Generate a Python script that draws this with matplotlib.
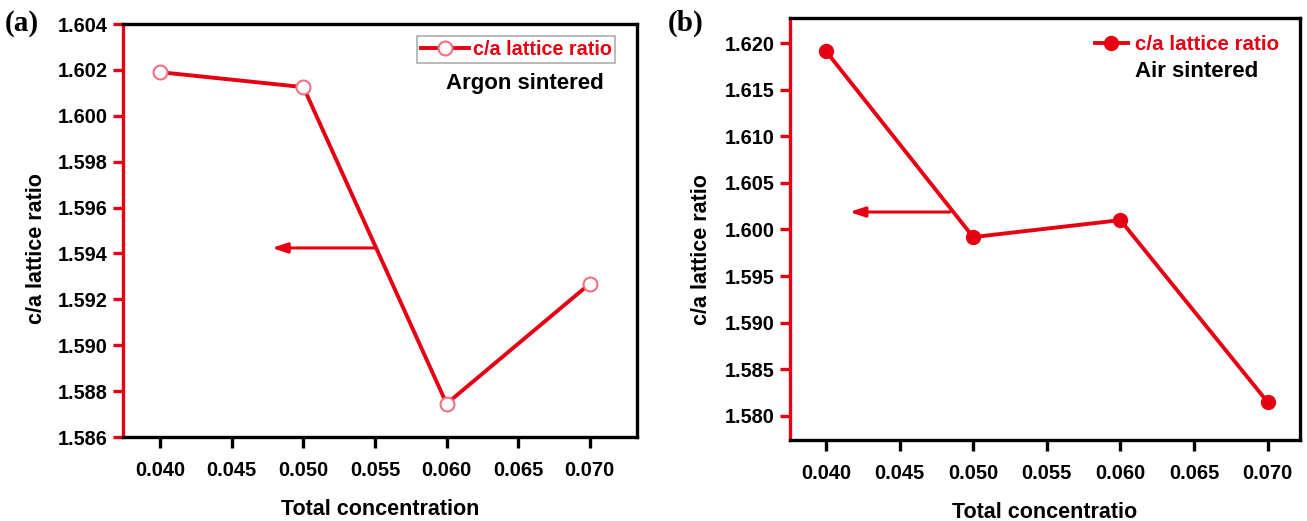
import matplotlib
matplotlib.use("Agg")
import matplotlib.pyplot as plt
from matplotlib.ticker import FormatStrFormatter

# ---- data ----
conc = [0.040, 0.050, 0.060, 0.070]
ratio_argon = [1.6019, 1.60125, 1.58745, 1.59268]
ratio_air = [1.61914, 1.59918, 1.60100, 1.58148]

xticks = [0.040, 0.045, 0.050, 0.055, 0.060, 0.065, 0.070]
yticks_a = [1.586, 1.588, 1.590, 1.592, 1.594, 1.596, 1.598, 1.600, 1.602, 1.604]
yticks_b = [1.580, 1.585, 1.590, 1.595, 1.600, 1.605, 1.610, 1.615, 1.620]

arrow_a = {"start": (0.0550, 1.59424), "end": (0.0478, 1.59424)}
arrow_b = {"start": (0.0484, 1.60187), "end": (0.0416, 1.60187)}

legend_label = "c/a lattice ratio"
xlabels = ["Total concentration", "Total concentratio"]
ylabel = "c/a lattice ratio"
notes = ["Argon sintered", "Air sintered"]
panel_tags = ["(a)", "(b)"]

RED = "#e60012"
FONT = "Liberation Sans"

plt.rcParams["font.family"] = [FONT, "DejaVu Sans"]
plt.rcParams["font.weight"] = "bold"

fig = plt.figure(figsize=(13.07, 5.21), dpi=100)
ax_a = fig.add_axes([0.0941, 0.1612, 0.3933, 0.7927])
ax_b = fig.add_axes([0.6044, 0.1555, 0.3902, 0.8100])


def style(ax, yticks, ylim, xlim, yfmt):
    for s in ["top", "right", "bottom"]:
        ax.spines[s].set_color("black")
        ax.spines[s].set_linewidth(2.4)
    ax.spines["left"].set_color(RED)
    ax.spines["left"].set_linewidth(2.4)
    ax.set_xlim(*xlim)
    ax.set_ylim(*ylim)
    ax.set_xticks(xticks)
    ax.set_yticks(yticks)
    ax.xaxis.set_major_formatter(FormatStrFormatter("%.3f"))
    ax.yaxis.set_major_formatter(FormatStrFormatter(yfmt))
    ax.tick_params(axis="x", direction="out", length=8, width=2.4, color="black",
                   labelsize=14.5, pad=9)
    ax.tick_params(axis="y", direction="out", length=7, width=2.4, color=RED,
                   labelsize=14.3, pad=4)
    for lab in ax.get_xticklabels() + ax.get_yticklabels():
        lab.set_fontweight("bold")


# ---- panel (a) ----
style(ax_a, yticks_a, (1.586, 1.604), (0.0374, 0.0733), "%.3f")
ax_a.plot(conc, ratio_argon, color=RED, lw=2.8, marker="o", ms=10,
          mfc="white", mec="#f07080", mew=1.5, label=legend_label)
ax_a.annotate("", xy=arrow_a["end"], xytext=arrow_a["start"],
              arrowprops=dict(arrowstyle="-|>,head_length=0.9,head_width=0.3",
                              color=RED, lw=2.2, shrinkA=0, shrinkB=0))
leg_a = ax_a.legend(loc="upper right", bbox_to_anchor=(0.958, 0.970), frameon=True,
                    fancybox=False, edgecolor="#999999", handlelength=2.4,
                    handletextpad=0.2, borderpad=0.2, borderaxespad=0,
                    prop={"family": FONT, "weight": "bold", "size": 14.2})
leg_a.get_frame().set_linewidth(1.2)
for t in leg_a.get_texts():
    t.set_color(RED)
ax_a.text(0.935, 0.857, notes[0], transform=ax_a.transAxes, ha="right", va="center",
          fontsize=16, fontweight="bold", color="black")
ax_a.set_xlabel(xlabels[0], fontsize=15.5, fontweight="bold", labelpad=14)
ax_a.set_ylabel(ylabel, fontsize=15.5, fontweight="bold", labelpad=8, y=0.457)

# ---- panel (b) ----
style(ax_b, yticks_b, (1.5774, 1.6227), (0.03755, 0.0722), "%.3f")
ax_b.plot(conc, ratio_air, color=RED, lw=2.8, marker="o", ms=10,
          mfc=RED, mec=RED, label=legend_label)
ax_b.annotate("", xy=arrow_b["end"], xytext=arrow_b["start"],
              arrowprops=dict(arrowstyle="-|>,head_length=0.9,head_width=0.3",
                              color=RED, lw=2.2, shrinkA=0, shrinkB=0))
leg_b = ax_b.legend(loc="upper right", bbox_to_anchor=(0.965, 0.967), frameon=False,
                    handlelength=1.6, handletextpad=0.35, borderpad=0.15,
                    borderaxespad=0, markerscale=1.0,
                    prop={"family": FONT, "weight": "bold", "size": 14.8})
for t in leg_b.get_texts():
    t.set_color(RED)
ax_b.text(0.918, 0.873, notes[1], transform=ax_b.transAxes, ha="right", va="center",
          fontsize=16, fontweight="bold", color="black")
ax_b.set_xlabel(xlabels[1], fontsize=15.5, fontweight="bold", labelpad=14)
ax_b.set_ylabel(ylabel, fontsize=15.5, fontweight="bold", labelpad=9, y=0.452)

# panel tags
fig.text(0.004, 0.955, panel_tags[0], fontsize=21, fontweight="bold",
         family=["Liberation Serif", "DejaVu Serif"], va="center", ha="left")
fig.text(0.511, 0.955, panel_tags[1], fontsize=21, fontweight="bold",
         family=["Liberation Serif", "DejaVu Serif"], va="center", ha="left")

fig.savefig("out.png", dpi=100)
